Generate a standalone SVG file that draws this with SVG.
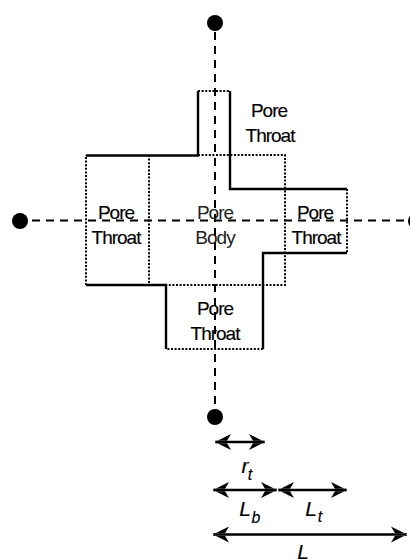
<svg xmlns="http://www.w3.org/2000/svg" width="410" height="559" viewBox="0 0 410 559">
<defs>
<path id="hl" d="M0 0L16 -8L12 -1.200H0V1.200H12L16 8Z"/>
<path id="hr" d="M0 0L-16 -8L-12 -1.200H0V1.200H-12L-16 8Z"/>
</defs>
<style>
text{font-family:"Liberation Sans",Arial,sans-serif;font-size:19px;text-anchor:middle;fill:#000;letter-spacing:-1px;stroke:#000;stroke-width:.15}
.body{fill:#222;stroke:none}
.i{font-style:italic;font-size:21px;letter-spacing:0}
.s{font-style:italic;font-size:16px;letter-spacing:0}
.sol{fill:none;stroke:#000;stroke-width:2.400}
.dot{fill:none;stroke:#000;stroke-width:2;stroke-dasharray:2 1.600}
.das{fill:none;stroke:#000;stroke-width:2;stroke-dasharray:8 6}
.arr{fill:none;stroke:#000;stroke-width:2.400}
</style>
<g id="outline">
<path class="dot" d="M198 91H230M347 189V253M263 349H166M86 285V155M149 155V285M198 155H285V285H166"/>
<path class="sol" d="M86 155.500H198V91M230 91V189H347M347 253H263V349M166 349V285H86"/>
</g>
<g id="connectors">
<path class="das" d="M215 32V408"/>
<path class="das" d="M32 220.500H410"/>
</g>
<g id="node-top"><circle cx="215" cy="23" r="8"/></g>
<g id="node-left"><circle cx="20" cy="221" r="8"/></g>
<g id="node-right"><circle cx="416" cy="221" r="8"/></g>
<g id="node-bottom"><circle cx="215" cy="417" r="8"/></g>
<g id="label-throat-top"><text x="269" y="117">Pore</text><text x="270" y="142">Throat</text></g>
<g id="label-throat-left"><text x="116" y="219">Pore</text><text x="116" y="244">Throat</text></g>
<g id="label-body"><text class="body" x="215" y="219">Pore</text><text class="body" x="215" y="244">Body</text></g>
<g id="label-throat-right"><text x="315" y="219">Pore</text><text x="316" y="244">Throat</text></g>
<g id="label-throat-bottom"><text x="215" y="315">Pore</text><text x="215" y="340">Throat</text></g>
<g id="dim-rt">
<path class="arr" d="M216 442H264"/><use href="#hl" x="215" y="442"/><use href="#hr" x="265" y="442"/>
<text class="i" x="245" y="473">r</text><text class="s" x="250" y="480">t</text>
</g>
<g id="dim-lb">
<path class="arr" d="M214 490H276"/><use href="#hl" x="213" y="490"/><use href="#hr" x="277" y="490"/>
<text class="i" x="245" y="516">L</text><text class="s" x="256" y="523">b</text>
</g>
<g id="dim-lt">
<path class="arr" d="M279 490H346"/><use href="#hl" x="278" y="490"/><use href="#hr" x="347" y="490"/>
<text class="i" x="311" y="516">L</text><text class="s" x="320" y="522">t</text>
</g>
<g id="dim-l">
<path class="arr" d="M214 534.500H406"/><use href="#hl" x="213" y="534.500"/><use href="#hr" x="407" y="534.500"/>
<text class="i" x="303" y="559">L</text>
</g>
</svg>
